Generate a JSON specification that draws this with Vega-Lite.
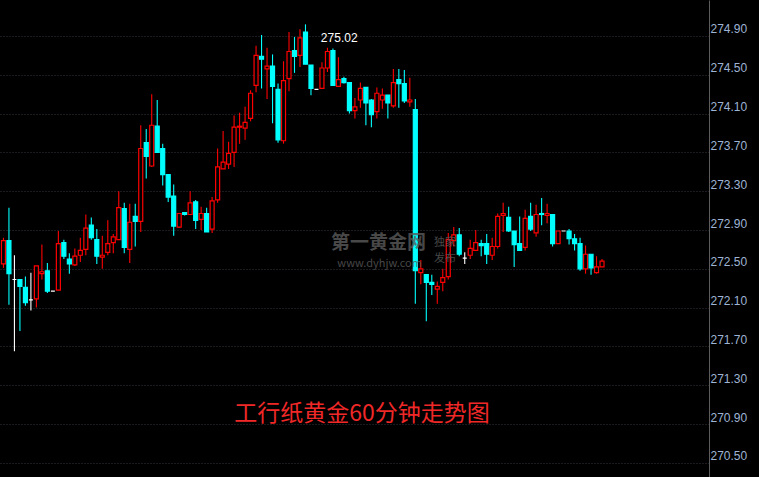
{
  "$schema": "https://vega.github.io/schema/vega-lite/v6.json",
  "width": 709,
  "height": 477,
  "autosize": {"type": "none"},
  "padding": {"left": 0, "top": 0, "right": 50, "bottom": 0},
  "background": "#000000",
  "config": {
    "view": {"stroke": null},
    "font": "Liberation Sans"
  },
  "datasets": {
    "k": [
      {"i":0,"o":272.55,"h":272.82,"l":272.51,"c":272.79,"d":"u"},
      {"i":1,"o":272.79,"h":273.13,"l":272.13,"c":272.45,"d":"d"},
      {"i":2,"o":272.39,"h":272.64,"l":271.65,"c":272.39,"d":"f"},
      {"i":3,"o":272.39,"h":272.39,"l":271.86,"c":272.32,"d":"d"},
      {"i":4,"o":272.31,"h":272.42,"l":272.12,"c":272.15,"d":"d"},
      {"i":5,"o":272.18,"h":272.46,"l":272.07,"c":272.18,"d":"f"},
      {"i":6,"o":272.19,"h":272.53,"l":272.10,"c":272.53,"d":"u"},
      {"i":7,"o":272.45,"h":272.75,"l":272.39,"c":272.47,"d":"u"},
      {"i":8,"o":272.48,"h":272.56,"l":272.25,"c":272.27,"d":"d"},
      {"i":9,"o":272.27,"h":272.27,"l":272.27,"c":272.27,"d":"f"},
      {"i":10,"o":272.28,"h":272.89,"l":272.28,"c":272.76,"d":"u"},
      {"i":11,"o":272.77,"h":272.80,"l":272.60,"c":272.63,"d":"d"},
      {"i":12,"o":272.60,"h":272.66,"l":272.45,"c":272.55,"d":"d"},
      {"i":13,"o":272.54,"h":272.71,"l":272.53,"c":272.63,"d":"u"},
      {"i":14,"o":272.64,"h":272.82,"l":272.57,"c":272.69,"d":"u"},
      {"i":15,"o":272.70,"h":273.06,"l":272.64,"c":272.92,"d":"u"},
      {"i":16,"o":272.95,"h":273.03,"l":272.80,"c":272.82,"d":"d"},
      {"i":17,"o":272.80,"h":272.91,"l":272.55,"c":272.63,"d":"d"},
      {"i":18,"o":272.62,"h":272.84,"l":272.50,"c":272.64,"d":"u"},
      {"i":19,"o":272.67,"h":273.00,"l":272.64,"c":272.76,"d":"u"},
      {"i":20,"o":272.77,"h":272.86,"l":272.66,"c":272.83,"d":"u"},
      {"i":21,"o":272.80,"h":273.30,"l":272.80,"c":273.13,"d":"u"},
      {"i":22,"o":273.12,"h":273.18,"l":272.66,"c":272.72,"d":"d"},
      {"i":23,"o":272.70,"h":273.17,"l":272.56,"c":272.98,"d":"u"},
      {"i":24,"o":273.04,"h":273.17,"l":272.73,"c":272.99,"d":"d"},
      {"i":25,"o":272.99,"h":273.98,"l":272.88,"c":273.74,"d":"u"},
      {"i":26,"o":273.80,"h":273.94,"l":273.43,"c":273.66,"d":"d"},
      {"i":27,"o":273.56,"h":274.30,"l":273.55,"c":273.98,"d":"u"},
      {"i":28,"o":273.97,"h":274.24,"l":273.70,"c":273.70,"d":"d"},
      {"i":29,"o":273.74,"h":273.79,"l":273.36,"c":273.47,"d":"d"},
      {"i":30,"o":273.47,"h":273.47,"l":273.19,"c":273.24,"d":"d"},
      {"i":31,"o":273.25,"h":273.37,"l":272.84,"c":272.94,"d":"d"},
      {"i":32,"o":272.93,"h":273.07,"l":272.92,"c":273.07,"d":"u"},
      {"i":33,"o":273.08,"h":273.08,"l":273.05,"c":273.06,"d":"d"},
      {"i":34,"o":273.06,"h":273.30,"l":273.06,"c":273.18,"d":"u"},
      {"i":35,"o":273.19,"h":273.21,"l":272.91,"c":273.00,"d":"d"},
      {"i":36,"o":273.01,"h":273.14,"l":272.90,"c":273.07,"d":"u"},
      {"i":37,"o":273.07,"h":273.13,"l":272.88,"c":272.88,"d":"d"},
      {"i":38,"o":272.91,"h":273.24,"l":272.87,"c":273.20,"d":"u"},
      {"i":39,"o":273.21,"h":273.74,"l":273.18,"c":273.55,"d":"u"},
      {"i":40,"o":273.53,"h":273.92,"l":273.53,"c":273.60,"d":"u"},
      {"i":41,"o":273.58,"h":273.81,"l":273.53,"c":273.69,"d":"u"},
      {"i":42,"o":273.70,"h":274.08,"l":273.55,"c":273.96,"d":"u"},
      {"i":43,"o":273.96,"h":274.11,"l":273.79,"c":273.97,"d":"u"},
      {"i":44,"o":273.95,"h":274.17,"l":273.83,"c":274.01,"d":"u"},
      {"i":45,"o":274.05,"h":274.34,"l":274.02,"c":274.31,"d":"u"},
      {"i":46,"o":274.39,"h":274.80,"l":274.32,"c":274.70,"d":"u"},
      {"i":47,"o":274.69,"h":274.91,"l":274.36,"c":274.66,"d":"d"},
      {"i":48,"o":274.56,"h":274.78,"l":274.25,"c":274.59,"d":"u"},
      {"i":49,"o":274.59,"h":274.71,"l":274.00,"c":274.38,"d":"d"},
      {"i":50,"o":274.35,"h":274.41,"l":273.80,"c":273.83,"d":"d"},
      {"i":51,"o":273.82,"h":274.64,"l":273.79,"c":274.44,"d":"u"},
      {"i":52,"o":274.46,"h":274.94,"l":274.33,"c":274.74,"d":"u"},
      {"i":53,"o":274.75,"h":274.89,"l":274.52,"c":274.69,"d":"d"},
      {"i":54,"o":274.70,"h":274.97,"l":274.58,"c":274.88,"d":"u"},
      {"i":55,"o":274.94,"h":275.02,"l":274.61,"c":274.61,"d":"d"},
      {"i":56,"o":274.60,"h":274.60,"l":274.29,"c":274.36,"d":"d"},
      {"i":57,"o":274.35,"h":274.35,"l":274.35,"c":274.35,"d":"f"},
      {"i":58,"o":274.36,"h":274.63,"l":274.36,"c":274.57,"d":"u"},
      {"i":59,"o":274.57,"h":274.78,"l":274.53,"c":274.74,"d":"u"},
      {"i":60,"o":274.75,"h":274.77,"l":274.39,"c":274.39,"d":"d"},
      {"i":61,"o":274.38,"h":274.68,"l":274.38,"c":274.45,"d":"u"},
      {"i":62,"o":274.46,"h":274.48,"l":274.41,"c":274.42,"d":"d"},
      {"i":63,"o":274.42,"h":274.42,"l":274.10,"c":274.13,"d":"d"},
      {"i":64,"o":274.13,"h":274.26,"l":274.05,"c":274.17,"d":"u"},
      {"i":65,"o":274.24,"h":274.42,"l":274.16,"c":274.36,"d":"u"},
      {"i":66,"o":274.37,"h":274.37,"l":273.98,"c":274.21,"d":"d"},
      {"i":67,"o":274.24,"h":274.25,"l":273.96,"c":274.09,"d":"d"},
      {"i":68,"o":274.12,"h":274.37,"l":274.05,"c":274.31,"d":"u"},
      {"i":69,"o":274.24,"h":274.36,"l":274.15,"c":274.29,"d":"u"},
      {"i":70,"o":274.29,"h":274.29,"l":274.05,"c":274.21,"d":"d"},
      {"i":71,"o":274.18,"h":274.56,"l":274.16,"c":274.42,"d":"u"},
      {"i":72,"o":274.45,"h":274.56,"l":274.16,"c":274.41,"d":"d"},
      {"i":73,"o":274.41,"h":274.55,"l":274.21,"c":274.23,"d":"d"},
      {"i":74,"o":274.22,"h":274.47,"l":274.17,"c":274.24,"d":"u"},
      {"i":75,"o":274.14,"h":274.25,"l":272.14,"c":272.48,"d":"d"},
      {"i":76,"o":272.46,"h":272.59,"l":272.34,"c":272.50,"d":"u"},
      {"i":77,"o":272.44,"h":272.44,"l":271.96,"c":272.36,"d":"d"},
      {"i":78,"o":272.36,"h":272.44,"l":272.23,"c":272.34,"d":"d"},
      {"i":79,"o":272.29,"h":272.37,"l":272.14,"c":272.32,"d":"u"},
      {"i":80,"o":272.36,"h":272.50,"l":272.27,"c":272.41,"d":"u"},
      {"i":81,"o":272.42,"h":272.87,"l":272.39,"c":272.80,"d":"u"},
      {"i":82,"o":272.79,"h":272.93,"l":272.73,"c":272.85,"d":"u"},
      {"i":83,"o":272.85,"h":272.92,"l":272.63,"c":272.65,"d":"d"},
      {"i":84,"o":272.61,"h":272.67,"l":272.55,"c":272.61,"d":"f"},
      {"i":85,"o":272.64,"h":272.80,"l":272.60,"c":272.71,"d":"u"},
      {"i":86,"o":272.69,"h":272.90,"l":272.69,"c":272.77,"d":"u"},
      {"i":87,"o":272.76,"h":272.80,"l":272.63,"c":272.74,"d":"d"},
      {"i":88,"o":272.76,"h":272.86,"l":272.55,"c":272.65,"d":"d"},
      {"i":89,"o":272.64,"h":272.82,"l":272.59,"c":272.73,"d":"u"},
      {"i":90,"o":272.73,"h":273.07,"l":272.71,"c":273.04,"d":"u"},
      {"i":91,"o":273.05,"h":273.18,"l":272.88,"c":273.07,"d":"u"},
      {"i":92,"o":273.03,"h":273.14,"l":272.88,"c":272.89,"d":"d"},
      {"i":93,"o":272.89,"h":272.89,"l":272.52,"c":272.75,"d":"d"},
      {"i":94,"o":272.76,"h":273.04,"l":272.69,"c":272.69,"d":"d"},
      {"i":95,"o":272.72,"h":273.11,"l":272.69,"c":273.02,"d":"u"},
      {"i":96,"o":273.04,"h":273.18,"l":272.89,"c":272.91,"d":"d"},
      {"i":97,"o":272.87,"h":273.16,"l":272.83,"c":273.06,"d":"u"},
      {"i":98,"o":273.07,"h":273.23,"l":272.95,"c":273.06,"d":"d"},
      {"i":99,"o":273.05,"h":273.17,"l":272.97,"c":273.07,"d":"u"},
      {"i":100,"o":273.06,"h":273.06,"l":272.73,"c":272.76,"d":"d"},
      {"i":101,"o":272.76,"h":272.89,"l":272.76,"c":272.89,"d":"u"},
      {"i":102,"o":272.89,"h":272.89,"l":272.89,"c":272.89,"d":"f"},
      {"i":103,"o":272.89,"h":272.91,"l":272.75,"c":272.81,"d":"d"},
      {"i":104,"o":272.81,"h":272.86,"l":272.69,"c":272.76,"d":"d"},
      {"i":105,"o":272.76,"h":272.82,"l":272.48,"c":272.50,"d":"d"},
      {"i":106,"o":272.50,"h":272.74,"l":272.45,"c":272.65,"d":"u"},
      {"i":107,"o":272.65,"h":272.65,"l":272.44,"c":272.51,"d":"d"},
      {"i":108,"o":272.46,"h":272.63,"l":272.45,"c":272.52,"d":"u"},
      {"i":109,"o":272.52,"h":272.60,"l":272.52,"c":272.58,"d":"u"}
    ]
  },
  "layer": [
    {
      "data": {"name": "k"},
      "mark": {"type": "rule", "strokeWidth": 1.1, "clip": true},
      "encoding": {
        "x": {"field": "i", "type": "quantitative", "scale": {"domain": [0.282, 127.57], "nice": false, "zero": false}, "axis": null},
        "y": {"field": "l", "type": "quantitative", "scale": {"domain": [270.354, 275.271], "nice": false, "zero": false},
          "axis": {"orient": "right", "values": [270.5, 270.9, 271.3, 271.7, 272.1, 272.5, 272.9, 273.3, 273.7, 274.1, 274.5, 274.9],
            "format": ".2f", "title": null, "grid": true, "gridColor": "#34343e", "gridDash": [1, 2], "gridWidth": 1,
            "ticks": false, "domain": true, "domainColor": "#5c5c5c", "domainWidth": 1,
            "labelColor": "#9fb4d4", "labelFontSize": 12, "labelFont": "Liberation Sans", "labelPadding": 1,
            "labelAlign": "left", "labelBaseline": "alphabetic", "labelOffset": -3}},
        "y2": {"field": "h"},
        "color": {"field": "d", "type": "nominal", "scale": {"domain": ["u", "d", "f"], "range": ["#ff0000", "#00ffff", "#ffffff"]}, "legend": null}
      }
    },
    {
      "mark": {"type": "rule", "color": "#34343e", "strokeDash": [1, 2], "strokeWidth": 1},
      "encoding": {"x": {"datum": 3, "type": "quantitative"}}
    },
    {
      "data": {"name": "k"},
      "mark": {"type": "bar", "size": 4, "strokeWidth": 1.2, "clip": true},
      "encoding": {
        "x": {"field": "i", "type": "quantitative"},
        "y": {"field": "o", "type": "quantitative"},
        "y2": {"field": "c"},
        "fill": {"field": "d", "type": "nominal", "scale": {"domain": ["u", "d", "f"], "range": ["#000000", "#00ffff", "#ffffff"]}, "legend": null},
        "stroke": {"field": "d", "type": "nominal", "scale": {"domain": ["u", "d", "f"], "range": ["#ff0000", "#00ffff", "#ffffff"]}, "legend": null}
      }
    },
    {
      "data": {"values": [{"t": "第一黄金网", "x": 68.3, "y": 272.77}]},
      "mark": {"type": "text", "font": "Noto Sans CJK SC", "fontWeight": "bold", "fontSize": 19, "color": "#5a5a5a", "opacity": 0.8},
      "encoding": {"x": {"field": "x", "type": "quantitative"}, "y": {"field": "y", "type": "quantitative"}, "text": {"field": "t"}}
    },
    {
      "data": {"values": [{"t": "www.dyhjw.com", "x": 68.5, "y": 272.55}, {"t": "独家", "x": 80.4, "y": 272.77}, {"t": "发布", "x": 80.4, "y": 272.6}]},
      "mark": {"type": "text", "font": "Noto Sans CJK SC", "fontSize": 11, "color": "#5a5a5a", "opacity": 0.8},
      "encoding": {"x": {"field": "x", "type": "quantitative"}, "y": {"field": "y", "type": "quantitative"}, "text": {"field": "t"}}
    },
    {
      "mark": {"type": "rule", "color": "#ffffff", "strokeWidth": 1},
      "encoding": {
        "x": {"datum": 55, "type": "quantitative"},
        "y": {"datum": 275.02, "type": "quantitative"},
        "x2": {"datum": 57.55},
        "y2": {"datum": 274.962}
      }
    },
    {
      "data": {"values": [{"t": "275.02", "x": 57.8, "y": 274.88}]},
      "mark": {"type": "text", "align": "left", "baseline": "middle", "fontSize": 12, "color": "#ffffff", "font": "Liberation Sans"},
      "encoding": {"x": {"field": "x", "type": "quantitative"}, "y": {"field": "y", "type": "quantitative"}, "text": {"field": "t"}}
    },
    {
      "data": {"values": [{"t": "工行纸黄金60分钟走势图", "x": 65.3, "y": 271.003}]},
      "mark": {"type": "text", "align": "center", "baseline": "middle", "fontSize": 23, "color": "#f02828", "font": "Noto Sans CJK SC"},
      "encoding": {"x": {"field": "x", "type": "quantitative"}, "y": {"field": "y", "type": "quantitative"}, "text": {"field": "t"}}
    }
  ]
}
